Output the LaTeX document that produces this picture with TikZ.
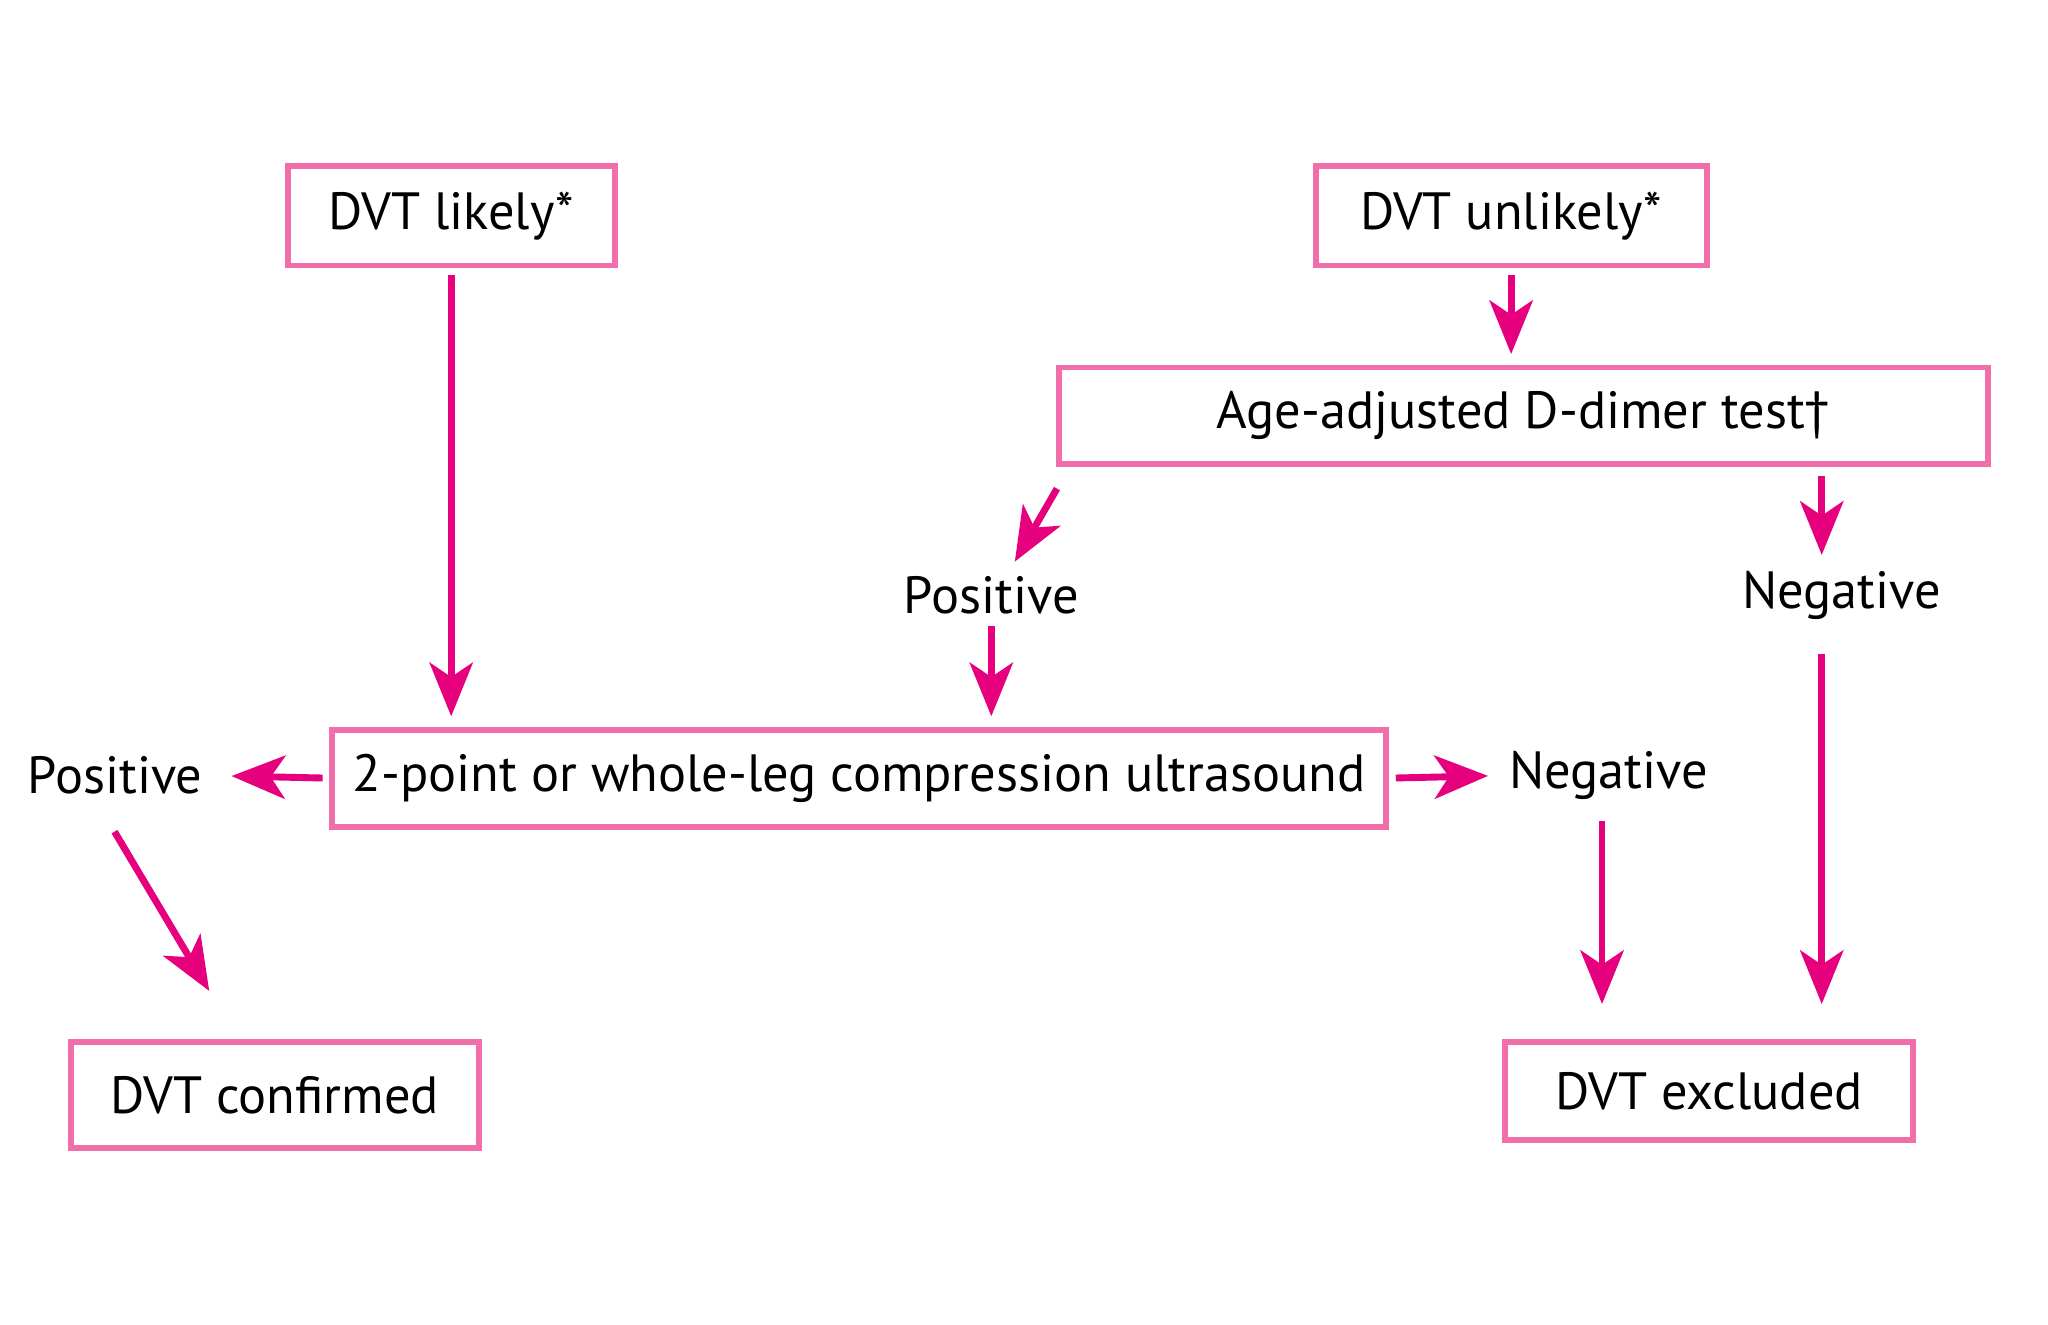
\documentclass[tikz,border=0pt]{standalone}
\usepackage{fontspec}
\setmainfont{PT Sans}
\usepackage{tikz}
\usetikzlibrary{arrows.meta,positioning,shapes}

\definecolor{boxpink}{HTML}{F06EA9}
\definecolor{arrpink}{HTML}{E6007E}

\begin{document}
\begin{tikzpicture}[->,>={Stealth[length=4.1mm,width=3.3mm,inset=1.1mm]},auto,thin,]
\tikzstyle{box}=[draw=boxpink,line width=1.3pt,fill=white,shape=rectangle,text=black,align=center,inner sep=0pt,minimum height=0.76cm,font=\fontsize{11.4}{13}\selectfont]
\tikzstyle{lab}=[draw=none,fill=none,text=black,inner sep=1pt,font=\fontsize{11.4}{13}\selectfont]
\tikzstyle{arr}=[draw=arrpink,line width=1.5pt,shorten >=0.8mm,shorten <=0.5mm]

\useasboundingbox (0,0) rectangle (15.66,-10.131);

\node[box]        (likely) at (3.45,-1.65) [minimum width=2.5cm] {DVT likely*};
\node[box]        (unlikely) [right of=likely,node distance=8.105cm,minimum width=2.99cm] {DVT unlikely*};
\node[box]        (ddimer) [below of=unlikely,node distance=1.53cm,xshift=0.095cm,minimum width=7.1cm,minimum height=0.74cm] {Age-adjusted D-dimer test†};
\node[lab]        (pos1) at (7.58,-4.55) {Positive};
\node[lab]        (neg1) [right of=pos1,node distance=6.5cm] {Negative};
\node[box]        (cus) at (6.57,-5.95) [minimum width=8.06cm,minimum height=0.74cm] {2-point or whole-leg compression ultrasound};
\node[lab]        (pos2) [left of=cus,node distance=5.69cm,yshift=0.02cm] {Positive};
\node[lab]        (neg2) [right of=cus,node distance=5.73cm,yshift=0.02cm] {Negative};
\node[box]        (confirmed) at (2.10,-8.375) [minimum width=3.12cm,minimum height=0.81cm] {DVT confirmed};
\node[box]        (excluded) [right of=confirmed,node distance=10.97cm,yshift=0.03cm,minimum width=3.12cm,minimum height=0.75cm] {DVT excluded};
\coordinate       (negcol) at ([xshift=-1.5mm]neg1.center);

\path
(likely.south) edge[arr] (likely.south |- cus.north)
(unlikely.south) edge[arr] (unlikely.south |- ddimer.north)
([shift={(0.03,-0.12)}]ddimer.south west) edge[arr] ([xshift=1.4mm]pos1.north)
(pos1.south) edge[arr] (pos1.south |- cus.north)
(ddimer.south -| negcol) edge[arr,shorten <=0.7mm] (neg1.north -| negcol)
(neg1.south -| negcol) edge[arr,shorten <=2.2mm,shorten >=2.7mm] (excluded.north -| negcol)
(cus.west) edge[arr,shorten >=1.8mm] (pos2.east)
(cus.east) edge[arr,shorten >=1.2mm] (neg2.west)
([shift={(-0.03,-0.2)}]pos2.south) edge[arr,shorten >=0mm] ([shift={(-0.5,0.37)}]confirmed.north)
([xshift=-0.5mm]neg2.south) edge[arr,shorten <=1.2mm,shorten >=2.7mm] ([xshift=-0.5mm]neg2.south |- excluded.north)
;
\end{tikzpicture}
\end{document}
